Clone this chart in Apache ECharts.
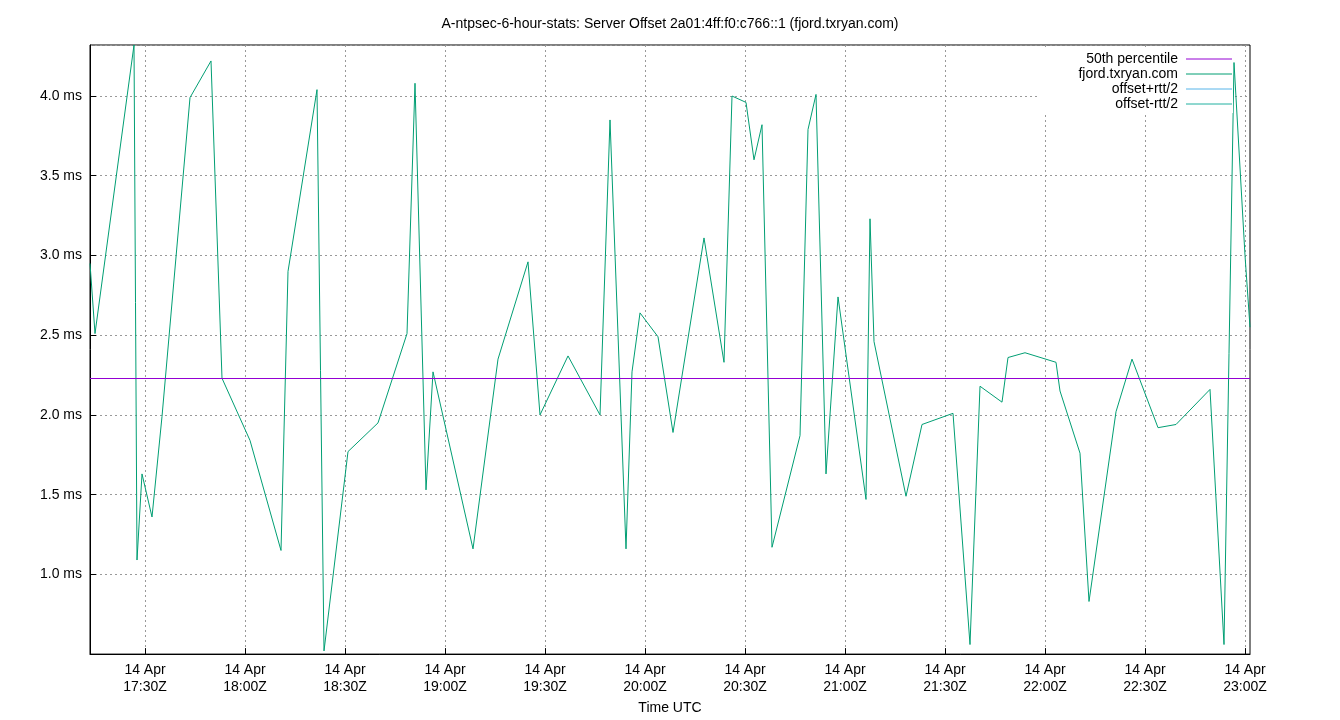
<!DOCTYPE html>
<html>
<head>
<meta charset="utf-8">
<script src="https://cdn.jsdelivr.net/npm/echarts@6/dist/echarts.min.js"></script>
<style>html,body{margin:0;padding:0;background:#fff}#myChart{width:1340px;height:720px}</style>
</head>
<body>
<div id="myChart"></div>
<script>
// minutes after 17:00Z, 14 Apr
var minutes = [13.5,15,26.7,27.6,29.1,32.1,35.1,43.5,49.8,53.1,61.5,70.8,72.9,81.6,83.7,90.9,99.9,108.6,111,114.3,116.4,128.4,135.9,144.9,148.5,156.9,166.5,169.5,174.3,176.1,178.5,183.9,188.4,197.7,203.7,206.1,210.3,212.7,215.1,218.1,226.5,228.9,231.3,234.3,237.9,246.3,247.5,248.7,258.3,263.1,272.4,277.5,280.5,287.1,288.9,294,303.3,304.5,310.5,313.2,321.3,326.1,333.9,339.3,349.5,353.7,356.7,360,361.5];
// offset in ms
var offsets = [2.95,2.51,4.32,1.09,1.63,1.36,1.99,3.99,4.22,2.23,1.84,1.15,2.90,4.04,0.52,1.77,1.95,2.51,4.08,1.53,2.27,1.16,2.35,2.96,2.00,2.37,2.00,3.85,1.16,2.27,2.64,2.49,1.89,3.11,2.33,4.00,3.96,3.60,3.82,1.17,1.87,3.79,4.01,1.63,2.74,1.47,3.23,2.46,1.49,1.94,2.01,0.56,2.18,2.08,2.36,2.39,2.33,2.15,1.76,0.83,2.02,2.35,1.92,1.94,2.16,0.56,4.21,3.00,2.55];
var percentile50 = 2.23;
var xTicks = [30,60,90,120,150,180,210,240,270,300,330,360];
var legendNames = ['50th percentile','fjord.txryan.com','offset+rtt/2','offset-rtt/2'];
var legendColors = ['#9400d3','#009e73','#56b4e9','#20b0a0'];

var pts = [];
for (var i = 0; i < minutes.length; i++) {
    pts.push([minutes[i], offsets[i]]);
}
function pad(n){return (n<10?'0':'')+n;}

var myChart = echarts.init(document.getElementById('myChart'));
var font = 'Liberation Sans, DejaVu Sans, sans-serif';

var legendGraphics = [{
    type:'rect', shape:{x:1040,y:49,width:193,height:64}, style:{fill:'#fff'}, z:50
}];
legendNames.forEach(function(n, k){
    var y = 59 + k*15;
    legendGraphics.push({type:'text', x:1178, y:y, z:51,
        style:{text:n, textAlign:'right', textVerticalAlign:'middle', fill:'#000', font:'14px '+font}});
    legendGraphics.push({type:'line', z:51, shape:{x1:1186,y1:y,x2:1232,y2:y},
        style:{stroke:legendColors[k], lineWidth:1}});
});

var option = {
    backgroundColor:'#fff',
    animation:false,
    title:{text:'A-ntpsec-6-hour-stats: Server Offset 2a01:4ff:f0:c766::1 (fjord.txryan.com)',
        left:'center', top:12, textStyle:{fontSize:14, fontWeight:'normal', color:'#000', fontFamily:font}},
    grid:{left:90, right:90, top:45, bottom:63, show:true, borderColor:'#000', borderWidth:1},
    xAxis:{
        type:'value', min:13.5, max:361.5,
        name:'Time UTC', nameLocation:'middle', nameGap:42,
        nameTextStyle:{fontSize:14, color:'#000', fontFamily:font},
        axisLine:{lineStyle:{color:'#000'}},
        axisTick:{inside:true, length:6, lineStyle:{color:'#000'}, customValues:xTicks},
        axisLabel:{fontSize:14, color:'#000', fontFamily:font, lineHeight:17, customValues:xTicks,
            formatter:function(v){var t=17*60+v;return '14 Apr\n'+pad(Math.floor(t/60))+':'+pad(t%60)+'Z';}},
        splitLine:{show:true, lineStyle:{color:'#999', type:[2,3]}}
    },
    yAxis:{
        type:'value', min:0.5, max:4.32, interval:0.5,
        axisLine:{lineStyle:{color:'#000'}},
        axisTick:{inside:true, length:6, lineStyle:{color:'#000'}},
        axisLabel:{fontSize:14, color:'#000', fontFamily:font, showMaxLabel:false,
            formatter:function(v){return v<0.9?'':v.toFixed(1)+' ms';}},
        splitLine:{show:true, lineStyle:{color:'#999', type:[2,3]}}
    },
    series:[{
        name:'fjord.txryan.com', type:'line', data:pts, symbol:'none',
        lineStyle:{color:'#009e73', width:1}, z:3,
        markLine:{silent:true, symbol:'none', label:{show:false},
            lineStyle:{color:'#9400d3', width:1, type:'solid'},
            data:[{yAxis:percentile50}]}
    }],
    graphic:legendGraphics
};
myChart.setOption(option);
</script>
</body>
</html>
